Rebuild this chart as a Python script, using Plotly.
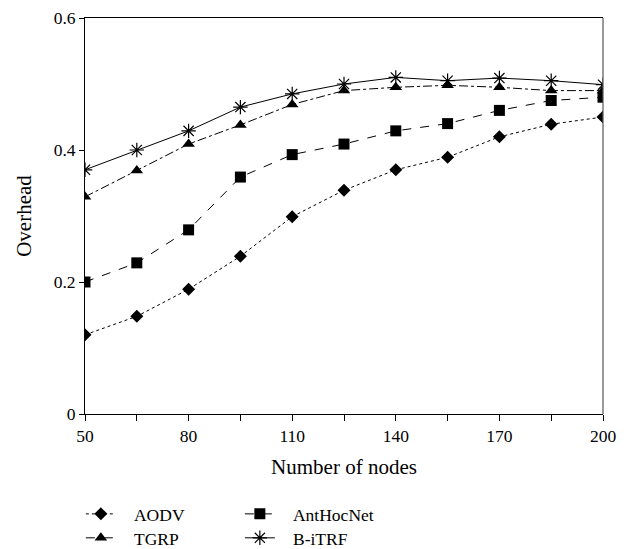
import plotly.graph_objects as go

nodes = [50, 65, 80, 95, 110, 125, 140, 155, 170, 185, 200]
aodv = [0.12, 0.148, 0.189, 0.239, 0.299, 0.339, 0.37, 0.389, 0.42, 0.439, 0.45]
anthocnet = [0.20, 0.229, 0.279, 0.359, 0.393, 0.409, 0.429, 0.44, 0.46, 0.475, 0.48]
tgrp = [0.329, 0.369, 0.409, 0.438, 0.469, 0.49, 0.495, 0.498, 0.495, 0.49, 0.49]
bitrf = [0.37, 0.40, 0.429, 0.465, 0.485, 0.50, 0.51, 0.505, 0.509, 0.505, 0.499]

x_ticks = [50, 80, 110, 140, 170, 200]
y_ticks = [0, 0.2, 0.4, 0.6]
y_tick_labels = ["0", "0.2", "0.4", "0.6"]

FONT = "Liberation Serif"
FS = 17.5
PAD = "\u00a0\u00a0\u00a0"

fig = go.Figure()
fig.add_trace(go.Scatter(x=nodes, y=aodv, name=PAD + "AODV", mode="lines+markers",
                         line=dict(color="black", width=1, dash="dot"),
                         marker=dict(symbol="diamond", size=10, color="black"),
                         legend="legend"))
fig.add_trace(go.Scatter(x=nodes, y=anthocnet, name=PAD + "AntHocNet", mode="lines+markers",
                         line=dict(color="black", width=1, dash="dash"),
                         marker=dict(symbol="square", size=11, color="black"),
                         legend="legend"))
fig.add_trace(go.Scatter(x=nodes, y=tgrp, name=PAD + "TGRP", mode="lines+markers",
                         line=dict(color="black", width=1, dash="dashdot"),
                         marker=dict(symbol="triangle-up", size=11, color="black"),
                         legend="legend2"))
fig.add_trace(go.Scatter(x=nodes, y=bitrf, name=PAD + "B-iTRF", mode="lines+markers",
                         line=dict(color="black", width=1),
                         marker=dict(symbol="asterisk-open", size=12, color="black",
                                     line=dict(color="black", width=1.2)),
                         legend="legend2"))

legend_common = dict(orientation="h", x=-0.008, xanchor="left", yanchor="middle",
                     entrywidth=114, entrywidthmode="pixels",
                     font=dict(family=FONT, size=FS, color="black"),
                     bgcolor="rgba(0,0,0,0)", itemwidth=30, tracegroupgap=0)

fig.update_layout(
    width=624, height=541,
    margin=dict(l=77, r=29, t=10, b=135, autoexpand=False),
    paper_bgcolor="white", plot_bgcolor="white",
    font=dict(family=FONT, size=FS, color="black"),
    showlegend=True,
    legend=dict(legend_common, y=-0.2525),
    legend2=dict(legend_common, y=-0.313),
    shapes=[dict(type="line", xref="paper", yref="paper", x0=1, x1=1, y0=0, y1=1,
                 line=dict(color="#555555", width=1.2))],
)
fig.update_xaxes(range=[50, 200], tickvals=x_ticks, ticks="outside", ticklen=6,
                 tickcolor="black", showline=True, linecolor="black", linewidth=1,
                 mirror=True, showgrid=False, zeroline=False,
                 minor=dict(dtick=15, tick0=50, ticks="outside", ticklen=6, tickcolor="black"),
                 title=dict(text="Number of nodes", standoff=14),
                 tickfont=dict(family=FONT, size=FS))
fig.update_yaxes(range=[0, 0.6], tickvals=y_ticks, ticktext=y_tick_labels, ticks="outside",
                 ticklen=5, tickcolor="black", showline=True, linecolor="black", linewidth=1,
                 mirror=False, showgrid=False, zeroline=False,
                 title=dict(text="Overhead", standoff=16),
                 tickfont=dict(family=FONT, size=FS))

fig.write_html("out.html")
